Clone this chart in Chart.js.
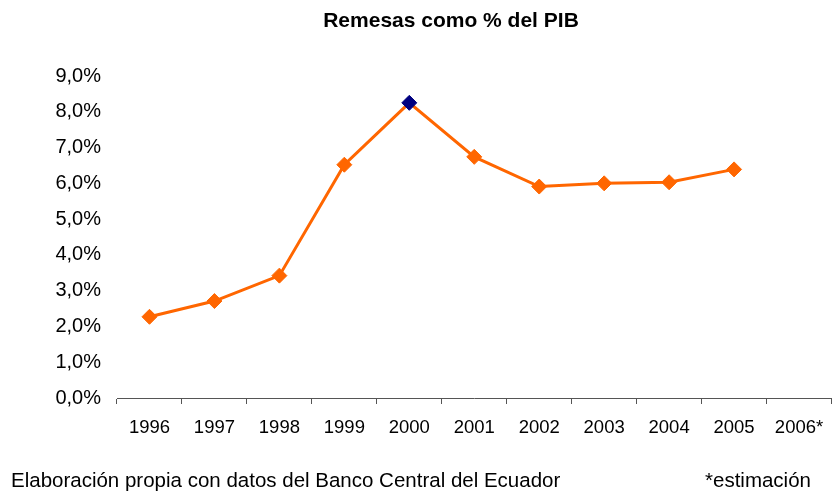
<!DOCTYPE html>
<html>
<head>
<meta charset="utf-8">
<script src="https://cdn.jsdelivr.net/npm/chart.js@4/dist/chart.umd.min.js"></script>
<style>
  html, body { margin: 0; padding: 0; overflow: hidden; background: #fff; }
  #wrap { position: relative; width: 832px; height: 492px; overflow: hidden; }
  canvas { position: absolute; left: 0; top: 0; }
</style>
</head>
<body>
<div id="wrap"><canvas id="c" width="840" height="492"></canvas></div>
<script>
const categories = ['1996', '1997', '1998', '1999', '2000', '2001', '2002', '2003', '2004', '2005', '2006*'];
const remesasPIB = [2.27, 2.71, 3.42, 6.52, 8.25, 6.74, 5.91, 6.00, 6.03, 6.39, null];
const highlightCategory = '2000';
const chartTitle = 'Remesas como % del PIB';
const sourceNote = 'Elaboración propia con datos del Banco Central del Ecuador';
const estimateNote = '*estimación';

const FONT = '"Liberation Sans", Arial, sans-serif';
const ORANGE = '#FF6600';
const NAVY = '#000080';

const textPlugin = {
  id: 'texts',
  afterDraw(chart) {
    const ctx = chart.ctx;
    ctx.save();
    ctx.fillStyle = '#000';
    ctx.textBaseline = 'middle';
    ctx.font = 'bold 21px ' + FONT;
    ctx.textAlign = 'center';
    ctx.fillText(chartTitle, 451, 21);
    ctx.font = '20.5px ' + FONT;
    ctx.textAlign = 'left';
    ctx.fillText(sourceNote, 11, 481);
    ctx.fillText(estimateNote, 705, 481);
    ctx.restore();
  }
};

const pointColor = (c) => categories[c.dataIndex] === highlightCategory ? NAVY : ORANGE;

new Chart(document.getElementById('c'), {
  type: 'line',
  data: {
    labels: categories,
    datasets: [{
      data: remesasPIB,
      borderColor: ORANGE,
      borderWidth: 3,
      pointStyle: 'rectRot',
      pointRadius: 7.5,
      pointBorderWidth: 1,
      pointBackgroundColor: pointColor,
      pointBorderColor: pointColor,
      tension: 0,
      spanGaps: false
    }]
  },
  options: {
    responsive: false,
    animation: false,
    devicePixelRatio: 1,
    layout: { padding: { top: 76, left: 0, right: 0, bottom: 10 } },
    plugins: { legend: { display: false }, title: { display: false }, tooltip: { enabled: false } },
    scales: {
      x: {
        offset: true,
        grid: { display: true, drawOnChartArea: false, drawTicks: true, tickLength: 6, offset: true, color: '#555' },
        border: { display: true, color: '#555', width: 1 },
        ticks: { color: '#000', font: { family: FONT, size: 18.5 }, padding: 13, maxRotation: 0, autoSkip: false },
        afterFit(s) { s.height = 84; }
      },
      y: {
        min: 0, max: 9,
        grid: { display: false, drawTicks: false },
        border: { display: false },
        ticks: {
          stepSize: 1,
          color: '#000',
          padding: 16,
          font: { family: FONT, size: 20 },
          callback: (v) => v.toFixed(1).replace('.', ',') + '%'
        },
        afterFit(s) { s.width = 117; }
      }
    }
  },
  plugins: [textPlugin]
});
</script>
</body>
</html>
